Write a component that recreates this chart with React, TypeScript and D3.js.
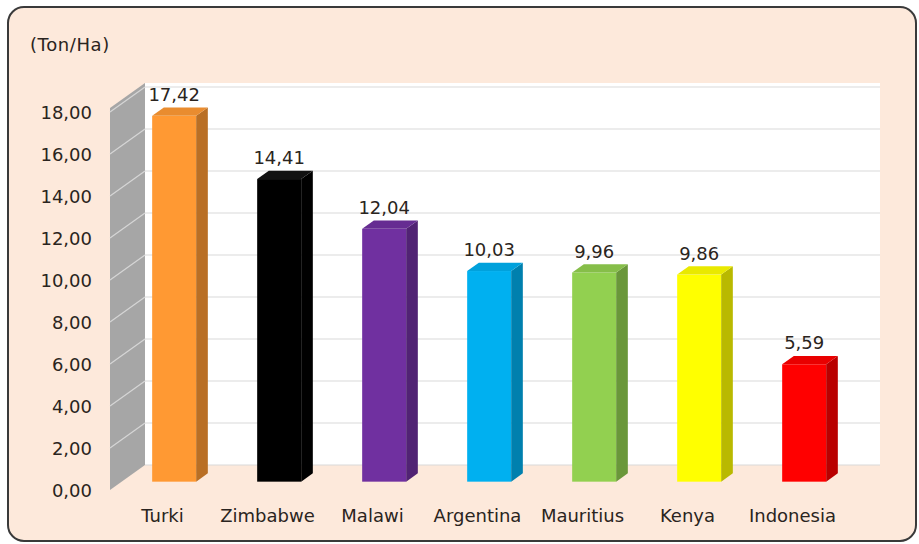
import React from "react";
import * as d3 from "d3";

const categories = ["Turki", "Zimbabwe", "Malawi", "Argentina", "Mauritius", "Kenya", "Indonesia"];
const values = [17.42, 14.41, 12.04, 10.03, 9.96, 9.86, 5.59];
const barColors = ["#FF9933", "#000000", "#7030A0", "#00B0F0", "#92D050", "#FFFF00", "#FF0000"];
const yTicks = [0, 2, 4, 6, 8, 10, 12, 14, 16, 18];
const unitLabel = "(Ton/Ha)";

const W = 919;
const H = 544;
const DX = 35;
const DY = -25;
const FONT = "'DejaVu Sans', Verdana, sans-serif";
const TXT = "#2a2420";

const fmt = (v: number) => v.toFixed(2).replace(".", ",");

export default function App() {
  const x = d3.scaleBand<string>().domain(categories).range([110, 845]).paddingInner(0).paddingOuter(0);
  const y = d3.scaleLinear().domain([0, 18]).range([490, 112]);
  const bw = 44;
  const bdx = DX / 3;
  const bdy = DY / 3;
  const back = (v: number) => y(v) + DY;
  const xL = 110;
  const xR = 845;

  return (
    <svg width={W} height={H} style={{ position: "fixed", left: 0, top: 0 }} xmlns="http://www.w3.org/2000/svg">
      <rect x={0} y={0} width={W} height={H} fill="#ffffff" />
      <rect x={8} y={7} width={908} height={534} rx={16} ry={16} fill="#fde9db" stroke="#3a3a3a" strokeWidth={2} />
      <text x={30} y={51} fontFamily={FONT} fontSize={18} letterSpacing={0.6} fill={TXT}>{unitLabel}</text>

      {/* back wall */}
      <rect x={xL + DX} y={back(18) - 4} width={xR - xL} height={y(0) - y(18) + 4} fill="#ffffff" />
      {yTicks.map((t) => (
        <line key={"g" + t} x1={xL + DX} x2={xR + DX} y1={back(t)} y2={back(t)} stroke="#d9d9d9" strokeWidth={1.2} />
      ))}
      {/* side wall */}
      <polygon
        points={`${xL},${y(18) - 4} ${xL + DX},${back(18) - 4} ${xL + DX},${back(0)} ${xL},${y(0)}`}
        fill="#a6a6a6"
      />
      {yTicks.slice(1).map((t) => (
        <line key={"s" + t} x1={xL} y1={y(t)} x2={xL + DX} y2={back(t)} stroke="#d6d6d6" strokeWidth={1.2} />
      ))}

      {/* y labels */}
      {yTicks.map((t) => (
        <text key={"y" + t} x={92} y={y(t) + 7} textAnchor="end" fontFamily={FONT} fontSize={18} fill={TXT}>
          {fmt(t)}
        </text>
      ))}

      {/* bars */}
      {categories.map((c, i) => {
        const v = values[i];
        const cx = (x(c) as number) + x.bandwidth() / 2 + bdx;
        const x0 = cx - bw / 2;
        const x1 = cx + bw / 2;
        const yt = y(v) + bdy;
        const yb = y(0) + bdy;
        const col = d3.color(barColors[i])!;
        const side = c === "Zimbabwe" ? "#000" : col.darker(0.9).formatHex();
        const top = c === "Zimbabwe" ? "#111" : col.darker(0.25).formatHex();
        return (
          <g key={c}>
            <rect x={x0} y={yt} width={bw} height={yb - yt} fill={barColors[i]} />
            <polygon points={`${x1},${yt} ${x1 + bdx},${yt + bdy} ${x1 + bdx},${yb + bdy} ${x1},${yb}`} fill={side} />
            <polygon points={`${x0},${yt} ${x1},${yt} ${x1 + bdx},${yt + bdy} ${x0 + bdx},${yt + bdy}`} fill={top} />
            <text x={cx} y={yt - 15} textAnchor="middle" fontFamily={FONT} fontSize={18} fill={TXT}>
              {fmt(v)}
            </text>
            <text x={(x(c) as number) + x.bandwidth() / 2} y={522} textAnchor="middle" fontFamily={FONT} fontSize={18} fill={TXT}>
              {c}
            </text>
          </g>
        );
      })}
    </svg>
  );
}
